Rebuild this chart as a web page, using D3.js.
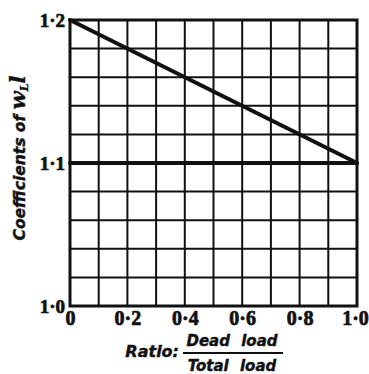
<!DOCTYPE html>
<html>
<head>
<meta charset="utf-8">
<script src="https://cdn.jsdelivr.net/npm/d3@7"></script>
<style>
  html, body { margin: 0; padding: 0; background: #fff; }
  svg { display: block; }
</style>
</head>
<body>
<svg id="chart" width="369" height="374"></svg>
<script>
// Ratio of dead load to total load (x) and the coefficient of w_L·l (y)
const ratioTicks = [0, 0.2, 0.4, 0.6, 0.8, 1.0];
const ratioTickLabels = ["0", "0·2", "0·4", "0·6", "0·8", "1·0"];
const coeffTicks = [1.0, 1.1, 1.2];
const coeffTickLabels = ["1·0", "1·1", "1·2"];
const gridRatio = [0, 0.1, 0.2, 0.3, 0.4, 0.5, 0.6, 0.7, 0.8, 0.9, 1.0];
const gridCoeff = [1.0, 1.02, 1.04, 1.06, 1.08, 1.1, 1.12, 1.14, 1.16, 1.18, 1.2];

// the two coefficient lines
const ratioPoints = [0, 1.0];
const sloping = [1.2, 1.1];
const level = [1.1, 1.1];

const svg = d3.select("#chart");
const plot = { left: 70, right: 357, top: 20, bottom: 306 };

const x = d3.scaleLinear().domain([0, 1]).range([plot.left, plot.right]);
const y = d3.scaleLinear().domain([1.0, 1.2]).range([plot.bottom, plot.top]);

const ink = "#111";

// grid
svg.append("g").selectAll("line").data(gridRatio).join("line")
  .attr("x1", d => x(d)).attr("x2", d => x(d))
  .attr("y1", y(1.2)).attr("y2", y(1.0))
  .attr("stroke", ink).attr("stroke-width", 2);
svg.append("g").selectAll("line").data(gridCoeff).join("line")
  .attr("y1", d => y(d)).attr("y2", d => y(d))
  .attr("x1", x(0)).attr("x2", x(1))
  .attr("stroke", ink).attr("stroke-width", 2);

// frame
svg.append("rect")
  .attr("x", x(0)).attr("y", y(1.2))
  .attr("width", x(1) - x(0)).attr("height", y(1.0) - y(1.2))
  .attr("fill", "none").attr("stroke", ink).attr("stroke-width", 3);

// coefficient lines
const line = d3.line().x(d => x(d[0])).y(d => y(d[1]));
[sloping, level].forEach(series => {
  svg.append("path")
    .datum(ratioPoints.map((r, i) => [r, series[i]]))
    .attr("d", line)
    .attr("fill", "none").attr("stroke", ink).attr("stroke-width", 4)
    .attr("stroke-linecap", "round");
});

// x axis labels
const xAxis = d3.axisBottom(x).tickValues(ratioTicks)
  .tickFormat((d, i) => ratioTickLabels[i]).tickSize(0).tickPadding(5);
const gx = svg.append("g").attr("transform", `translate(0,${plot.bottom})`).call(xAxis);
gx.select(".domain").remove();
gx.selectAll("text")
  .attr("font-family", "Liberation Serif").attr("font-weight", "bold")
  .attr("font-size", 20).attr("fill", ink)
  .attr("stroke", ink).attr("stroke-width", 0.7)
  .attr("dx", (d, i, n) => i === n.length - 1 ? -2 : 0);

// y axis labels
const yAxis = d3.axisLeft(y).tickValues(coeffTicks)
  .tickFormat((d, i) => coeffTickLabels[i]).tickSize(0).tickPadding(5);
const gy = svg.append("g").attr("transform", `translate(${plot.left},0)`).call(yAxis);
gy.select(".domain").remove();
gy.selectAll("text")
  .attr("font-family", "Liberation Serif").attr("font-weight", "bold")
  .attr("font-size", 19).attr("fill", ink)
  .attr("stroke", ink).attr("stroke-width", 0.7);

// y title
const yt = svg.append("text")
  .attr("transform", "translate(25,158) rotate(-90)")
  .attr("text-anchor", "middle")
  .attr("font-family", "DejaVu Sans").attr("font-weight", "bold")
  .attr("font-style", "italic").attr("font-size", 15.5).attr("fill", ink)
  .attr("stroke", ink).attr("stroke-width", 0.4);
yt.append("tspan").text("Coefficients of ");
yt.append("tspan").attr("font-family", "DejaVu Serif").attr("font-size", 21).text("w");
yt.append("tspan").attr("font-family", "DejaVu Serif").attr("font-size", 11).attr("dy", 3).text("L");
yt.append("tspan").attr("font-family", "DejaVu Serif").attr("font-size", 21).attr("dy", -3).text("l");

// x title: Ratio: Dead load / Total load
const titleFont = sel => sel.attr("font-family", "DejaVu Sans").attr("font-weight", "bold")
  .attr("font-style", "italic").attr("fill", ink)
  .attr("stroke", ink).attr("stroke-width", 0.4);
svg.append("text").call(titleFont).attr("font-size", 16)
  .attr("x", 179).attr("y", 357).attr("text-anchor", "end").text("Ratio:");
svg.append("text").call(titleFont).attr("font-size", 15).attr("word-spacing", 6)
  .attr("x", 232).attr("y", 346).attr("text-anchor", "middle").text("Dead load");
svg.append("line").attr("x1", 183).attr("x2", 283).attr("y1", 353).attr("y2", 353)
  .attr("stroke", ink).attr("stroke-width", 2);
svg.append("text").call(titleFont).attr("font-size", 15).attr("word-spacing", 6)
  .attr("x", 232).attr("y", 371).attr("text-anchor", "middle").text("Total load");
</script>
</body>
</html>
